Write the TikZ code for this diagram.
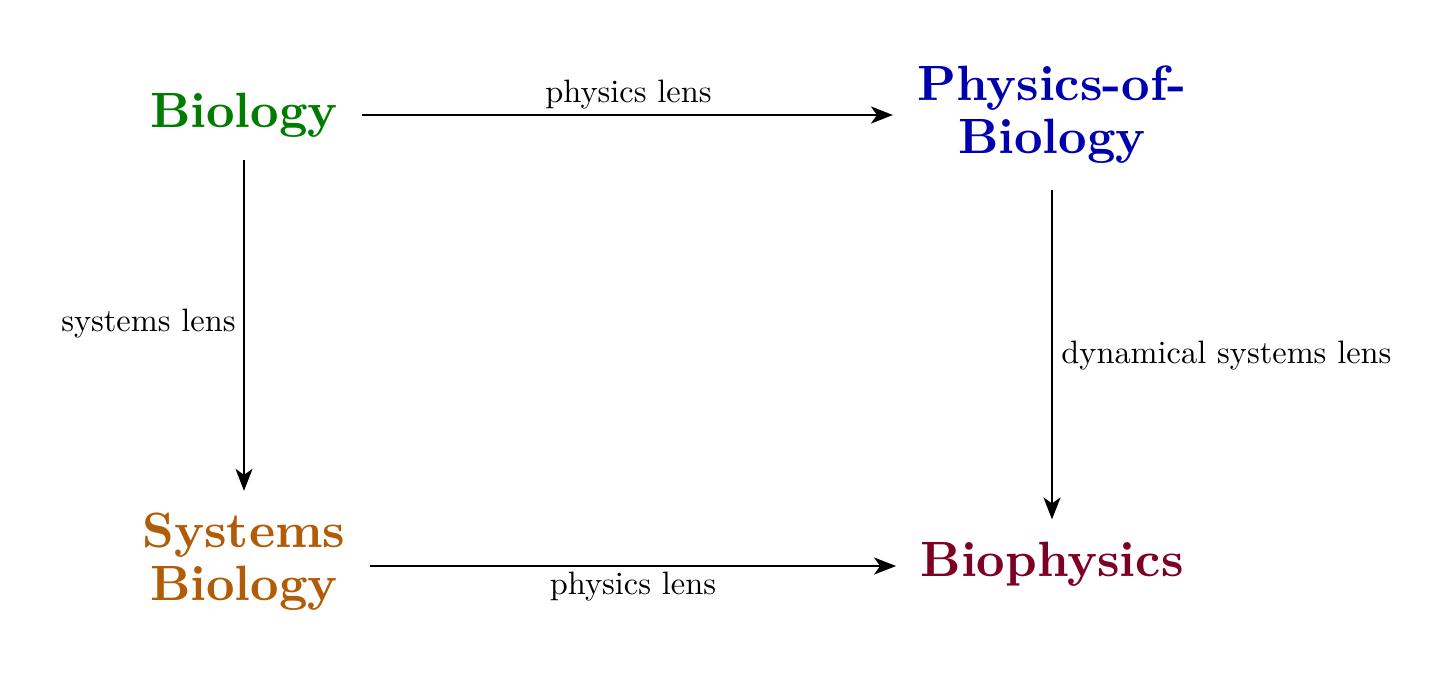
\documentclass[tikz,border=0pt]{standalone}
\usepackage{fontspec}
\setmainfont{lmroman10-regular.otf}[BoldFont=lmroman10-bold.otf]
\usetikzlibrary{arrows.meta}
\definecolor{cbio}{RGB}{0,125,0}
\definecolor{cpob}{RGB}{0,0,175}
\definecolor{csys}{RGB}{178,92,8}
\definecolor{cbph}{RGB}{125,0,35}
\tikzset{
  field/.style={font=\fontsize{24.8}{26.5}\selectfont\bfseries, align=center, inner sep=0pt},
  lens/.style={font=\fontsize{16.2}{19}\selectfont, inner sep=0pt},
  conn/.style={line width=1.1pt, -{Stealth[length=11pt,width=8.5pt,inset=3pt]}}
}
\begin{document}
\begin{tikzpicture}[x=0.5pt,y=-0.5pt]
\useasboundingbox (0,0) rectangle (1456,682);
\node[field, text=cbio] (bio) at (244,115) {Biology};
\node[field, text=cpob] (pob) at (1052,115) {Physics-of-\\Biology};
\node[field, text=csys] (sys) at (244,562) {Systems\\Biology};
\node[field, text=cbph] (bph) at (1052,564) {Biophysics};
\draw[conn] ([xshift=12pt]bio.east) -- ([xshift=-12pt]bio.east -| pob.west);
\draw[conn] ([yshift=-11pt]bio.south) -- ([yshift=11pt]sys.north);
\draw[conn] ([yshift=-13pt]pob.south) -- ([yshift=11pt]bph.north);
\draw[conn] ([xshift=12pt,yshift=-1pt]sys.east |- bph.west) -- ([xshift=-12pt,yshift=-1pt]bph.west);
\node[lens, anchor=base] (l1) at (628.5,102) {physics lens};
\node[lens, anchor=base] (l2) at (633,594) {physics lens};
\node[lens, anchor=base east] (l3) at (236,331) {systems lens};
\node[lens, anchor=base west] (l4) at (1061,363) {dynamical systems lens};
\end{tikzpicture}
\end{document}
